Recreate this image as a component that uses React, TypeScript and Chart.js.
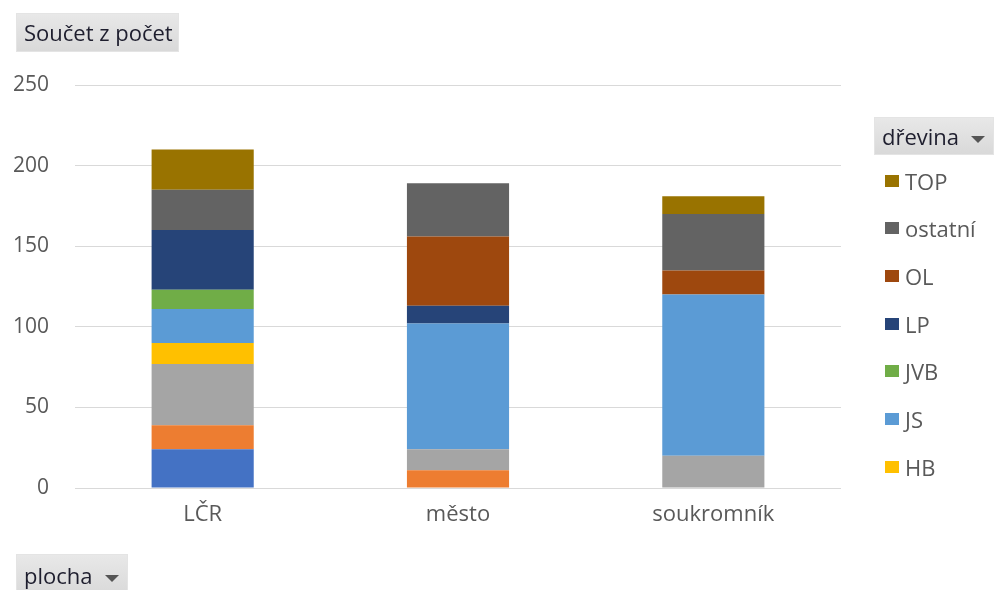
import React, { useEffect, useRef } from "react";
import { Chart, registerables } from "chart.js";

Chart.register(...registerables);

const categories = ["LČR", "město", "soukromník"];
const seriesNames = ["AK", "BŘ", "DB", "HB", "JS", "JVB", "LP", "OL", "ostatní", "TOP"];
const seriesColors = ["#4472C4", "#ED7D31", "#A5A5A5", "#FFC000", "#5B9BD5", "#70AD47", "#264478", "#9E480E", "#636363", "#997300"];
const akValues = [24, 0, 0];
const brValues = [15, 11, 0];
const dbValues = [38, 13, 20];
const hbValues = [13, 0, 0];
const jsValues = [21, 78, 100];
const jvbValues = [12, 0, 0];
const lpValues = [37, 11, 0];
const olValues = [0, 43, 15];
const ostatniValues = [25, 33, 35];
const topValues = [25, 0, 11];
const seriesValues = [akValues, brValues, dbValues, hbValues, jsValues, jvbValues, lpValues, olValues, ostatniValues, topValues];
const yMin = 0;
const yMax = 250;
const yStep = 50;
const valueFieldLabel = "Součet z počet";
const axisFieldLabel = "plocha";
const legendFieldLabel = "dřevina";
const legendVisibleCount = 7;

const FONT = "'Open Sans', 'Noto Sans', sans-serif";

function Arrow() {
  return (
    <span
      style={{
        display: "inline-block",
        width: 0,
        height: 0,
        borderLeft: "7px solid transparent",
        borderRight: "7px solid transparent",
        borderTop: "7px solid #555",
        marginLeft: 12,
        verticalAlign: "middle",
      }}
    />
  );
}

function PivotButton(props: { left: number; top: number; width: number; height: number; text: string; arrow?: boolean }) {
  return (
    <div
      style={{
        position: "absolute",
        left: props.left,
        top: props.top,
        width: props.width,
        height: props.height,
        background: "linear-gradient(#e8e8e8, #d9d9d9)",
        boxShadow: "0 0 0 1px #e4e4e4",
        color: "#1e1e2e",
        fontFamily: FONT,
        fontSize: 22,
        lineHeight: props.height + "px",
        paddingLeft: 7,
        boxSizing: "border-box",
        whiteSpace: "nowrap",
      }}
    >
      {props.text}
      {props.arrow ? <Arrow /> : null}
    </div>
  );
}

export default function App() {
  const canvasRef = useRef<HTMLCanvasElement | null>(null);

  useEffect(() => {
    document.body.style.margin = "0";
    const canvas = canvasRef.current;
    if (!canvas) return;
    const chart = new Chart(canvas, {
      type: "bar",
      data: {
        labels: categories,
        datasets: seriesNames.map((name, i) => ({
          label: name,
          data: seriesValues[i],
          backgroundColor: seriesColors[i],
          borderWidth: 0,
          barPercentage: 0.4,
          categoryPercentage: 1.0,
        })),
      },
      options: {
        responsive: false,
        animation: false,
        devicePixelRatio: 1,
        layout: { padding: { left: 0, right: 160, top: 85, bottom: 52 } },
        plugins: {
          legend: { display: false },
          tooltip: { enabled: false },
          title: { display: false },
        },
        scales: {
          x: {
            stacked: true,
            grid: { display: false, drawTicks: false },
            border: { display: false },
            ticks: {
              color: "#595959",
              font: { family: FONT, size: 22 },
              padding: 14,
            },
            afterFit: (scale: any) => {
              scale.height = 50;
            },
          },
          y: {
            stacked: true,
            min: yMin,
            max: yMax,
            grid: { color: "#d9d9d9", lineWidth: 1, drawTicks: false },
            border: { display: false },
            ticks: {
              stepSize: yStep,
              color: "#595959",
              font: { family: FONT, size: 21 },
              padding: 26,
            },
            afterFit: (scale: any) => {
              scale.width = 75;
            },
          },
        },
      },
    });
    return () => chart.destroy();
  }, []);

  const legendItems = seriesNames
    .map((name, i) => ({ name, color: seriesColors[i] }))
    .reverse()
    .slice(0, legendVisibleCount);

  return (
    <div style={{ position: "fixed", left: 0, top: 0, width: 1001, height: 590, overflow: "hidden", background: "#fff" }}>
      <canvas ref={canvasRef} width={1001} height={590} style={{ position: "absolute", left: 0, top: 0 }} />
      <PivotButton left={17} top={14} width={161} height={37} text={valueFieldLabel} />
      <PivotButton left={17} top={555} width={110} height={40} text={axisFieldLabel} arrow />
      <PivotButton left={875} top={118} width={118} height={36} text={legendFieldLabel} arrow />
      {legendItems.map((item, k) => (
        <div
          key={item.name}
          style={{
            position: "absolute",
            left: 885,
            top: 180.7 + k * 47.67 - 15,
            height: 30,
            display: "flex",
            alignItems: "center",
            fontFamily: FONT,
            fontSize: 22,
            color: "#595959",
            whiteSpace: "nowrap",
          }}
        >
          <span style={{ display: "inline-block", width: 14, height: 12, background: item.color, marginRight: 6 }} />
          <span>{item.name}</span>
        </div>
      ))}
    </div>
  );
}
